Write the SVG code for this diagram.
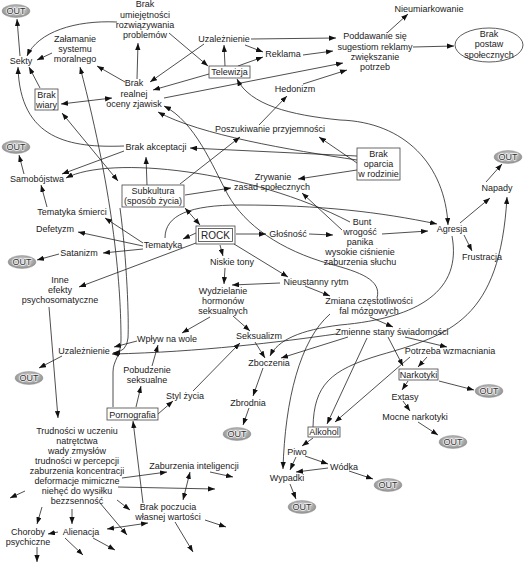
<svg xmlns="http://www.w3.org/2000/svg" width="525" height="565" viewBox="0 0 525 565">
<style>
.t{font-family:"Liberation Sans",Arial,sans-serif;font-size:9px;fill:#222;text-anchor:middle}
.c path{fill:none;stroke:#222;stroke-width:0.8;marker-end:url(#ah)}
.c path.d{marker-start:url(#ah)}
.box{fill:#fff;stroke:#444;stroke-width:0.8}
.out{fill:url(#og);stroke:#999;stroke-width:0.5}
.ot{font-family:"Liberation Sans",Arial,sans-serif;font-size:9px;fill:#333;text-anchor:middle;stroke:#f2f2f2;stroke-width:1.6;paint-order:stroke;stroke-linejoin:round}
</style>
<defs>
<marker id="ah" viewBox="0 0 8 6" refX="8" refY="3" markerWidth="7" markerHeight="5.5" markerUnits="userSpaceOnUse" orient="auto-start-reverse"><path d="M0,0 L8,3 L0,6 z" fill="#111"/></marker>
<radialGradient id="og" cx="0.5" cy="0.45" r="0.6"><stop offset="0" stop-color="#e0e0e0"/><stop offset="0.6" stop-color="#b0b0b0"/><stop offset="1" stop-color="#808080"/></radialGradient>
</defs>
<rect width="525" height="565" fill="#fff"/>
<g id="connectors" class="c">
<path d="M20,56 L17,19"/>
<path d="M117,22 C75,20 38,32 27,56"/>
<path d="M52,53 L37,60"/>
<path d="M40,88 L29,67"/>
<path class="d" d="M61,104 L112,98"/>
<path d="M125,82 L97,66"/>
<path d="M137,79 L138,43"/>
<path d="M169,33 L208,66"/>
<path d="M204,44 L150,82"/>
<path d="M209,74 L153,90"/>
<path d="M225,66 L224,45"/>
<path d="M238,66 L263,57"/>
<path d="M245,45 L263,52"/>
<path d="M251,39 L336,38"/>
<path d="M303,55 L333,51"/>
<path d="M164,98 L343,63"/>
<path d="M303,84 L347,70"/>
<path d="M259,125 L287,96"/>
<path d="M387,33 L408,14"/>
<path d="M413,47 L454,46"/>
<path class="d" d="M448,225 C445,165 405,122 340,120 C290,115 250,105 237,79"/>
<path d="M357,156 L190,148"/>
<path d="M357,160 C290,150 200,135 158,112"/>
<path d="M357,163 L319,137"/>
<path d="M357,170 L298,179"/>
<path d="M377,298 C382,280 360,272 330,264 C280,250 245,225 228,195 C212,165 195,122 164,106"/>
<path d="M124,146 C70,148 20,140 18,67"/>
<path d="M124,151 L62,174"/>
<path d="M350,222 C250,170 110,155 66,178"/>
<path class="d" d="M62,113 L118,181"/>
<path d="M147,185 L146,157"/>
<path d="M180,184 L240,137"/>
<path d="M185,195 L231,188"/>
<path d="M165,238 C165,215 190,205 240,205 C320,205 380,212 437,224"/>
<path d="M342,230 L302,193"/>
<path d="M382,234 L428,231"/>
<path d="M460,223 L490,198"/>
<path d="M464,235 L472,251"/>
<path d="M486,182 L502,164"/>
<path d="M196,233 L183,239"/>
<path class="d" d="M185,208 L200,225"/>
<path d="M236,234 L266,234"/>
<path d="M309,234 L333,235"/>
<path d="M220,245 L223,256"/>
<path d="M234,244 L288,277"/>
<path d="M196,243 L79,287"/>
<path d="M143,243 L105,218"/>
<path d="M143,246 L78,232"/>
<path d="M143,249 L103,253"/>
<path d="M59,254 L37,260"/>
<path d="M47,207 L41,185"/>
<path d="M24,174 L19,155"/>
<path d="M225,268 L224,284"/>
<path d="M280,283 L232,285"/>
<path d="M305,286 L330,296"/>
<path d="M210,317 L182,333"/>
<path d="M233,316 L250,331"/>
<path d="M193,391 L240,343"/>
<path d="M158,414 L173,401"/>
<path d="M136,407 L141,386"/>
<path d="M152,366 L158,345"/>
<path d="M137,341 L114,347"/>
<path d="M336,334 C280,342 200,352 112,354"/>
<path d="M120,208 C127,260 129,320 128,338 Q127,352 113,353"/>
<path d="M62,356 L39,368"/>
<path d="M113,407 L113,372 C113,360 121,356 121,340 C121,290 115,200 80,67"/>
<path d="M49,307 L58,418"/>
<path d="M370,317 L393,327"/>
<path d="M405,337 L447,347"/>
<path d="M388,337 L403,366"/>
<path d="M427,357 L418,367"/>
<path d="M348,337 L281,358"/>
<path d="M255,342 L265,358"/>
<path d="M452,236 C462,290 420,318 340,325 C300,330 278,340 270,356"/>
<path d="M263,368 L253,396"/>
<path d="M249,408 L243,425"/>
<path d="M367,338 L327,424"/>
<path d="M410,357 L335,422"/>
<path d="M313,427 C314,385 330,370 380,355 C450,335 500,320 507,197"/>
<path d="M330,314 C300,340 285,400 283,469"/>
<path d="M439,381 L474,390"/>
<path d="M408,381 L402,390"/>
<path d="M403,401 L410,411"/>
<path d="M418,422 L438,435"/>
<path d="M313,438 L302,446"/>
<path d="M305,456 L328,464"/>
<path d="M296,457 L290,470"/>
<path d="M328,468 L296,472"/>
<path d="M349,471 L373,479"/>
<path d="M290,484 L296,499"/>
<path d="M42,507 L37,524"/>
<path d="M72,509 L72,524"/>
<path d="M25,491 L10,498"/>
<path d="M122,478 L167,472"/>
<path d="M118,487 L215,489"/>
<path d="M117,500 L130,510"/>
<path d="M100,503 L127,535"/>
<path d="M37,547 L37,562"/>
<path d="M58,532 L48,534"/>
<path d="M65,538 L83,555"/>
<path d="M93,538 L115,550"/>
<path class="d" d="M107,529 L148,523"/>
<path d="M143,503 L133,421"/>
<path class="d" d="M183,500 L190,472"/>
<path d="M210,472 L233,477"/>
<path d="M205,520 L226,527"/>
<path d="M175,522 L193,552"/>
</g>
<g id="out1"><ellipse class="out" cx="16" cy="11" rx="14" ry="6.5"/><text class="ot" x="16" y="14">OUT</text></g>
<g id="out2"><ellipse class="out" cx="16" cy="147" rx="14" ry="6.5"/><text class="ot" x="16" y="150">OUT</text></g>
<g id="out3"><ellipse class="out" cx="508" cy="157" rx="14" ry="6.5"/><text class="ot" x="508" y="160">OUT</text></g>
<g id="out4"><ellipse class="out" cx="22" cy="262" rx="14" ry="6.5"/><text class="ot" x="22" y="265">OUT</text></g>
<g id="out5"><ellipse class="out" cx="29" cy="378" rx="14" ry="6.5"/><text class="ot" x="29" y="381">OUT</text></g>
<g id="out6"><ellipse class="out" cx="489" cy="391" rx="14" ry="6.5"/><text class="ot" x="489" y="394">OUT</text></g>
<g id="out7"><ellipse class="out" cx="453" cy="442" rx="14" ry="6.5"/><text class="ot" x="453" y="445">OUT</text></g>
<g id="out8"><ellipse class="out" cx="237" cy="434" rx="14" ry="6.5"/><text class="ot" x="237" y="437">OUT</text></g>
<g id="out9"><ellipse class="out" cx="388" cy="485" rx="14" ry="6.5"/><text class="ot" x="388" y="488">OUT</text></g>
<g id="out10"><ellipse class="out" cx="302" cy="507" rx="14" ry="6.5"/><text class="ot" x="302" y="510">OUT</text></g>
<g id="brak-umiejetnosci"><text class="t" x="145" y="7">Brak</text><text class="t" x="145" y="18">umiejętności</text><text class="t" x="145" y="28">rozwiązywania</text><text class="t" x="145" y="38">problemów</text></g>
<g id="zalamanie"><text class="t" x="75" y="42">Załamanie</text><text class="t" x="75" y="52">systemu</text><text class="t" x="75" y="62">moralnego</text></g>
<g id="sekty"><text class="t" x="21" y="64">Sekty</text></g>
<g id="brak-realnej"><text class="t" x="134" y="86">Brak</text><text class="t" x="134" y="96.5">realnej</text><text class="t" x="134" y="107">oceny zjawisk</text></g>
<g id="brak-wiary"><rect class="box" x="35" y="89" width="23" height="21"/><text class="t" x="46.5" y="98">Brak</text><text class="t" x="46.5" y="108">wiary</text></g>
<g id="uzaleznienie1"><text class="t" x="224" y="42">Uzależnienie</text></g>
<g id="reklama"><text class="t" x="283" y="57">Reklama</text></g>
<g id="telewizja"><rect class="box" x="209" y="66" width="41" height="12"/><text class="t" x="229.5" y="75">Telewizja</text></g>
<g id="poddawanie"><text class="t" x="375" y="39">Poddawanie się</text><text class="t" x="375" y="49.5">sugestiom reklamy</text><text class="t" x="375" y="60">zwiększanie</text><text class="t" x="375" y="70">potrzeb</text></g>
<g id="nieumiarkowanie"><text class="t" x="429" y="12">Nieumiarkowanie</text></g>
<g id="brak-postaw"><ellipse cx="489" cy="45" rx="34" ry="17" fill="#fff" stroke="#333" stroke-width="0.8"/><text class="t" x="489" y="37">Brak</text><text class="t" x="489" y="47">postaw</text><text class="t" x="489" y="58">społecznych</text></g>
<g id="hedonizm"><text class="t" x="295" y="92">Hedonizm</text></g>
<g id="poszukiwanie"><text class="t" x="270" y="132">Poszukiwanie przyjemności</text></g>
<g id="brak-akceptacji"><text class="t" x="156" y="150">Brak akceptacji</text></g>
<g id="brak-oparcia"><rect class="box" x="357" y="148" width="43" height="32"/><text class="t" x="378.5" y="157">Brak</text><text class="t" x="378.5" y="167">oparcia</text><text class="t" x="378.5" y="177">w rodzinie</text></g>
<g id="napady"><text class="t" x="497" y="191">Napady</text></g>
<g id="samobojstwa"><text class="t" x="37" y="182">Samobójstwa</text></g>
<g id="subkultura"><rect class="box" x="122" y="185" width="62" height="22"/><text class="t" x="153" y="194">Subkultura</text><text class="t" x="153" y="204">(sposób życia)</text></g>
<g id="zrywanie"><text class="t" x="273" y="180">Zrywanie</text><text class="t" x="272" y="190">zasad społecznych</text></g>
<g id="tematyka-smierci"><text class="t" x="72" y="215">Tematyka śmierci</text></g>
<g id="defetyzm"><text class="t" x="55" y="232">Defetyzm</text></g>
<g id="tematyka"><text class="t" x="163" y="248">Tematyka</text></g>
<g id="satanizm"><text class="t" x="79" y="256">Satanizm</text></g>
<g id="rock"><rect class="box" x="196" y="226" width="39" height="18" stroke-width="1"/><rect x="198.5" y="228.5" width="34" height="13" fill="none" stroke="#444" stroke-width="0.8"/><text class="t" x="215.5" y="238.5" style="font-size:10px">ROCK</text></g>
<g id="glosnosc"><text class="t" x="288" y="237">Głośność</text></g>
<g id="bunt"><text class="t" x="362" y="225">Bunt</text><text class="t" x="360" y="235">wrogość</text><text class="t" x="360" y="245">panika</text><text class="t" x="360" y="255">wysokie ciśnienie</text><text class="t" x="360" y="265">zaburzenia słuchu</text></g>
<g id="agresja"><text class="t" x="452" y="232">Agresja</text></g>
<g id="frustracja"><text class="t" x="482" y="260">Frustracja</text></g>
<g id="niskie-tony"><text class="t" x="232" y="265">Niskie tony</text></g>
<g id="inne-efekty"><text class="t" x="60" y="283">Inne</text><text class="t" x="60" y="293">efekty</text><text class="t" x="60" y="303">psychosomatyczne</text></g>
<g id="nieustanny"><text class="t" x="316" y="285">Nieustanny rytm</text></g>
<g id="wydzielanie"><text class="t" x="223" y="294">Wydzielanie</text><text class="t" x="223" y="304">hormonów</text><text class="t" x="223" y="314">seksualnych</text></g>
<g id="zmiana"><text class="t" x="369" y="304">Zmiana częstotliwości</text><text class="t" x="369" y="314">fal mózgowych</text></g>
<g id="zmienne"><text class="t" x="392" y="335">Zmienne stany świadomości</text></g>
<g id="seksualizm"><text class="t" x="259" y="339">Seksualizm</text></g>
<g id="wplyw"><text class="t" x="167" y="342">Wpływ na wole</text></g>
<g id="uzaleznienie2"><text class="t" x="84" y="354">Uzależnienie</text></g>
<g id="potrzeba"><text class="t" x="450" y="354">Potrzeba wzmacniania</text></g>
<g id="zboczenia"><text class="t" x="269" y="366">Zboczenia</text></g>
<g id="pobudzenie"><text class="t" x="147" y="373">Pobudzenie</text><text class="t" x="147" y="383">seksualne</text></g>
<g id="narkotyki"><rect class="box" x="399" y="369" width="39" height="11"/><text class="t" x="418.5" y="377.5">Narkotyki</text></g>
<g id="styl-zycia"><text class="t" x="185" y="399">Styl życia</text></g>
<g id="extasy"><text class="t" x="405" y="400">Extasy</text></g>
<g id="zbrodnia"><text class="t" x="248" y="406">Zbrodnia</text></g>
<g id="pornografia"><rect class="box" x="107" y="408" width="51" height="12"/><text class="t" x="132.5" y="417.5">Pornografia</text></g>
<g id="mocne"><text class="t" x="415" y="420">Mocne narkotyki</text></g>
<g id="alkohol"><rect class="box" x="308" y="427" width="32" height="10"/><text class="t" x="324" y="435">Alkohol</text></g>
<g id="trudnosci"><text class="t" x="77" y="434">Trudności w uczeniu</text><text class="t" x="77" y="444">natrętctwa</text><text class="t" x="77" y="454">wady zmysłów</text><text class="t" x="77" y="464">trudności w percepcji</text><text class="t" x="77" y="474">zaburzenia koncentracji</text><text class="t" x="77" y="484">deformacje mimiczne</text><text class="t" x="77" y="494">niehęć do wysiłku</text><text class="t" x="77" y="504">bezzsenność</text></g>
<g id="piwo"><text class="t" x="297" y="455">Piwo</text></g>
<g id="zaburzenia-int"><text class="t" x="194" y="469">Zaburzenia inteligencji</text></g>
<g id="wodka"><text class="t" x="344" y="470">Wódka</text></g>
<g id="wypadki"><text class="t" x="287" y="481">Wypadki</text></g>
<g id="brak-poczucia"><text class="t" x="168" y="510">Brak poczucia</text><text class="t" x="168" y="520">własnej wartości</text></g>
<g id="choroby"><text class="t" x="28" y="535">Choroby</text><text class="t" x="28" y="545">psychiczne</text></g>
<g id="alienacja"><text class="t" x="81" y="535">Alienacja</text></g>
</svg>
